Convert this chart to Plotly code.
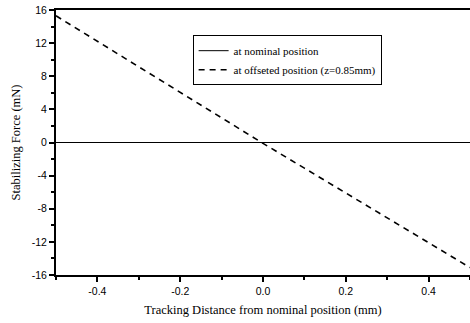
import plotly.graph_objects as go

x_vals = [-0.5, -0.4, -0.3, -0.2, -0.1, 0.0, 0.1, 0.2, 0.3, 0.4, 0.5]
nominal = [0, 0, 0, 0, 0, 0, 0, 0, 0, 0, 0]
offseted = [15.3, 12.2, 9.2, 6.1, 3.0, -0.1, -3.1, -6.1, -9.1, -12.1, -15.1]

x_ticks = [-0.4, -0.2, 0.0, 0.2, 0.4]
x_ticklabels = ["-0.4", "-0.2", "0.0", "0.2", "0.4"]
y_ticks = [16, 12, 8, 4, 0, -4, -8, -12, -16]
y_ticklabels = ["16", "12", "8", "4", "0", "-4", "-8", "-12", "-16"]

fig = go.Figure()
fig.add_trace(go.Scatter(x=x_vals, y=nominal, mode="lines", name="at nominal position",
                         line=dict(color="black", width=1)))
fig.add_trace(go.Scatter(x=x_vals, y=offseted, mode="lines", name="at offseted position (z=0.85mm)",
                         line=dict(color="black", width=1.6, dash="6px,5px")))

tickfont = dict(family="Liberation Sans, Arial", size=10.5, color="black")
titlefont = dict(family="Liberation Serif, Times New Roman", size=12.5, color="black")

fig.update_layout(
    width=470, height=323,
    margin=dict(l=56, r=0, t=10, b=48),
    paper_bgcolor="white", plot_bgcolor="white",
    showlegend=True,
    legend=dict(x=0.33, y=0.905, xanchor="left", yanchor="top",
                bordercolor="black", borderwidth=1, bgcolor="white",
                font=dict(family="Liberation Serif, Times New Roman", size=11, color="black"),
                tracegroupgap=0, itemwidth=30),
    xaxis=dict(range=[-0.5, 0.5], tickvals=x_ticks, ticktext=x_ticklabels,
               showgrid=False, zeroline=False, showline=True, linecolor="black", linewidth=2,
               mirror=True, ticks="outside", ticklen=5, tickwidth=1.5, tickcolor="black",
               tickfont=tickfont,
               minor=dict(dtick=0.1, tick0=0, ticks="outside", ticklen=3, tickcolor="black"),
               title=dict(text="Tracking Distance from nominal position (mm)", font=titlefont, standoff=10)),
    yaxis=dict(range=[-16, 16], tickvals=y_ticks, ticktext=y_ticklabels,
               showgrid=False, zeroline=False, showline=True, linecolor="black", linewidth=2,
               mirror=False, ticks="outside", ticklen=5, tickwidth=1.5, tickcolor="black",
               tickfont=tickfont,
               minor=dict(dtick=2, tick0=0, ticks="outside", ticklen=3, tickcolor="black"),
               title=dict(text="Stabilizing Force (mN)", font=titlefont, standoff=8)),
)

fig.write_html("out.html")
